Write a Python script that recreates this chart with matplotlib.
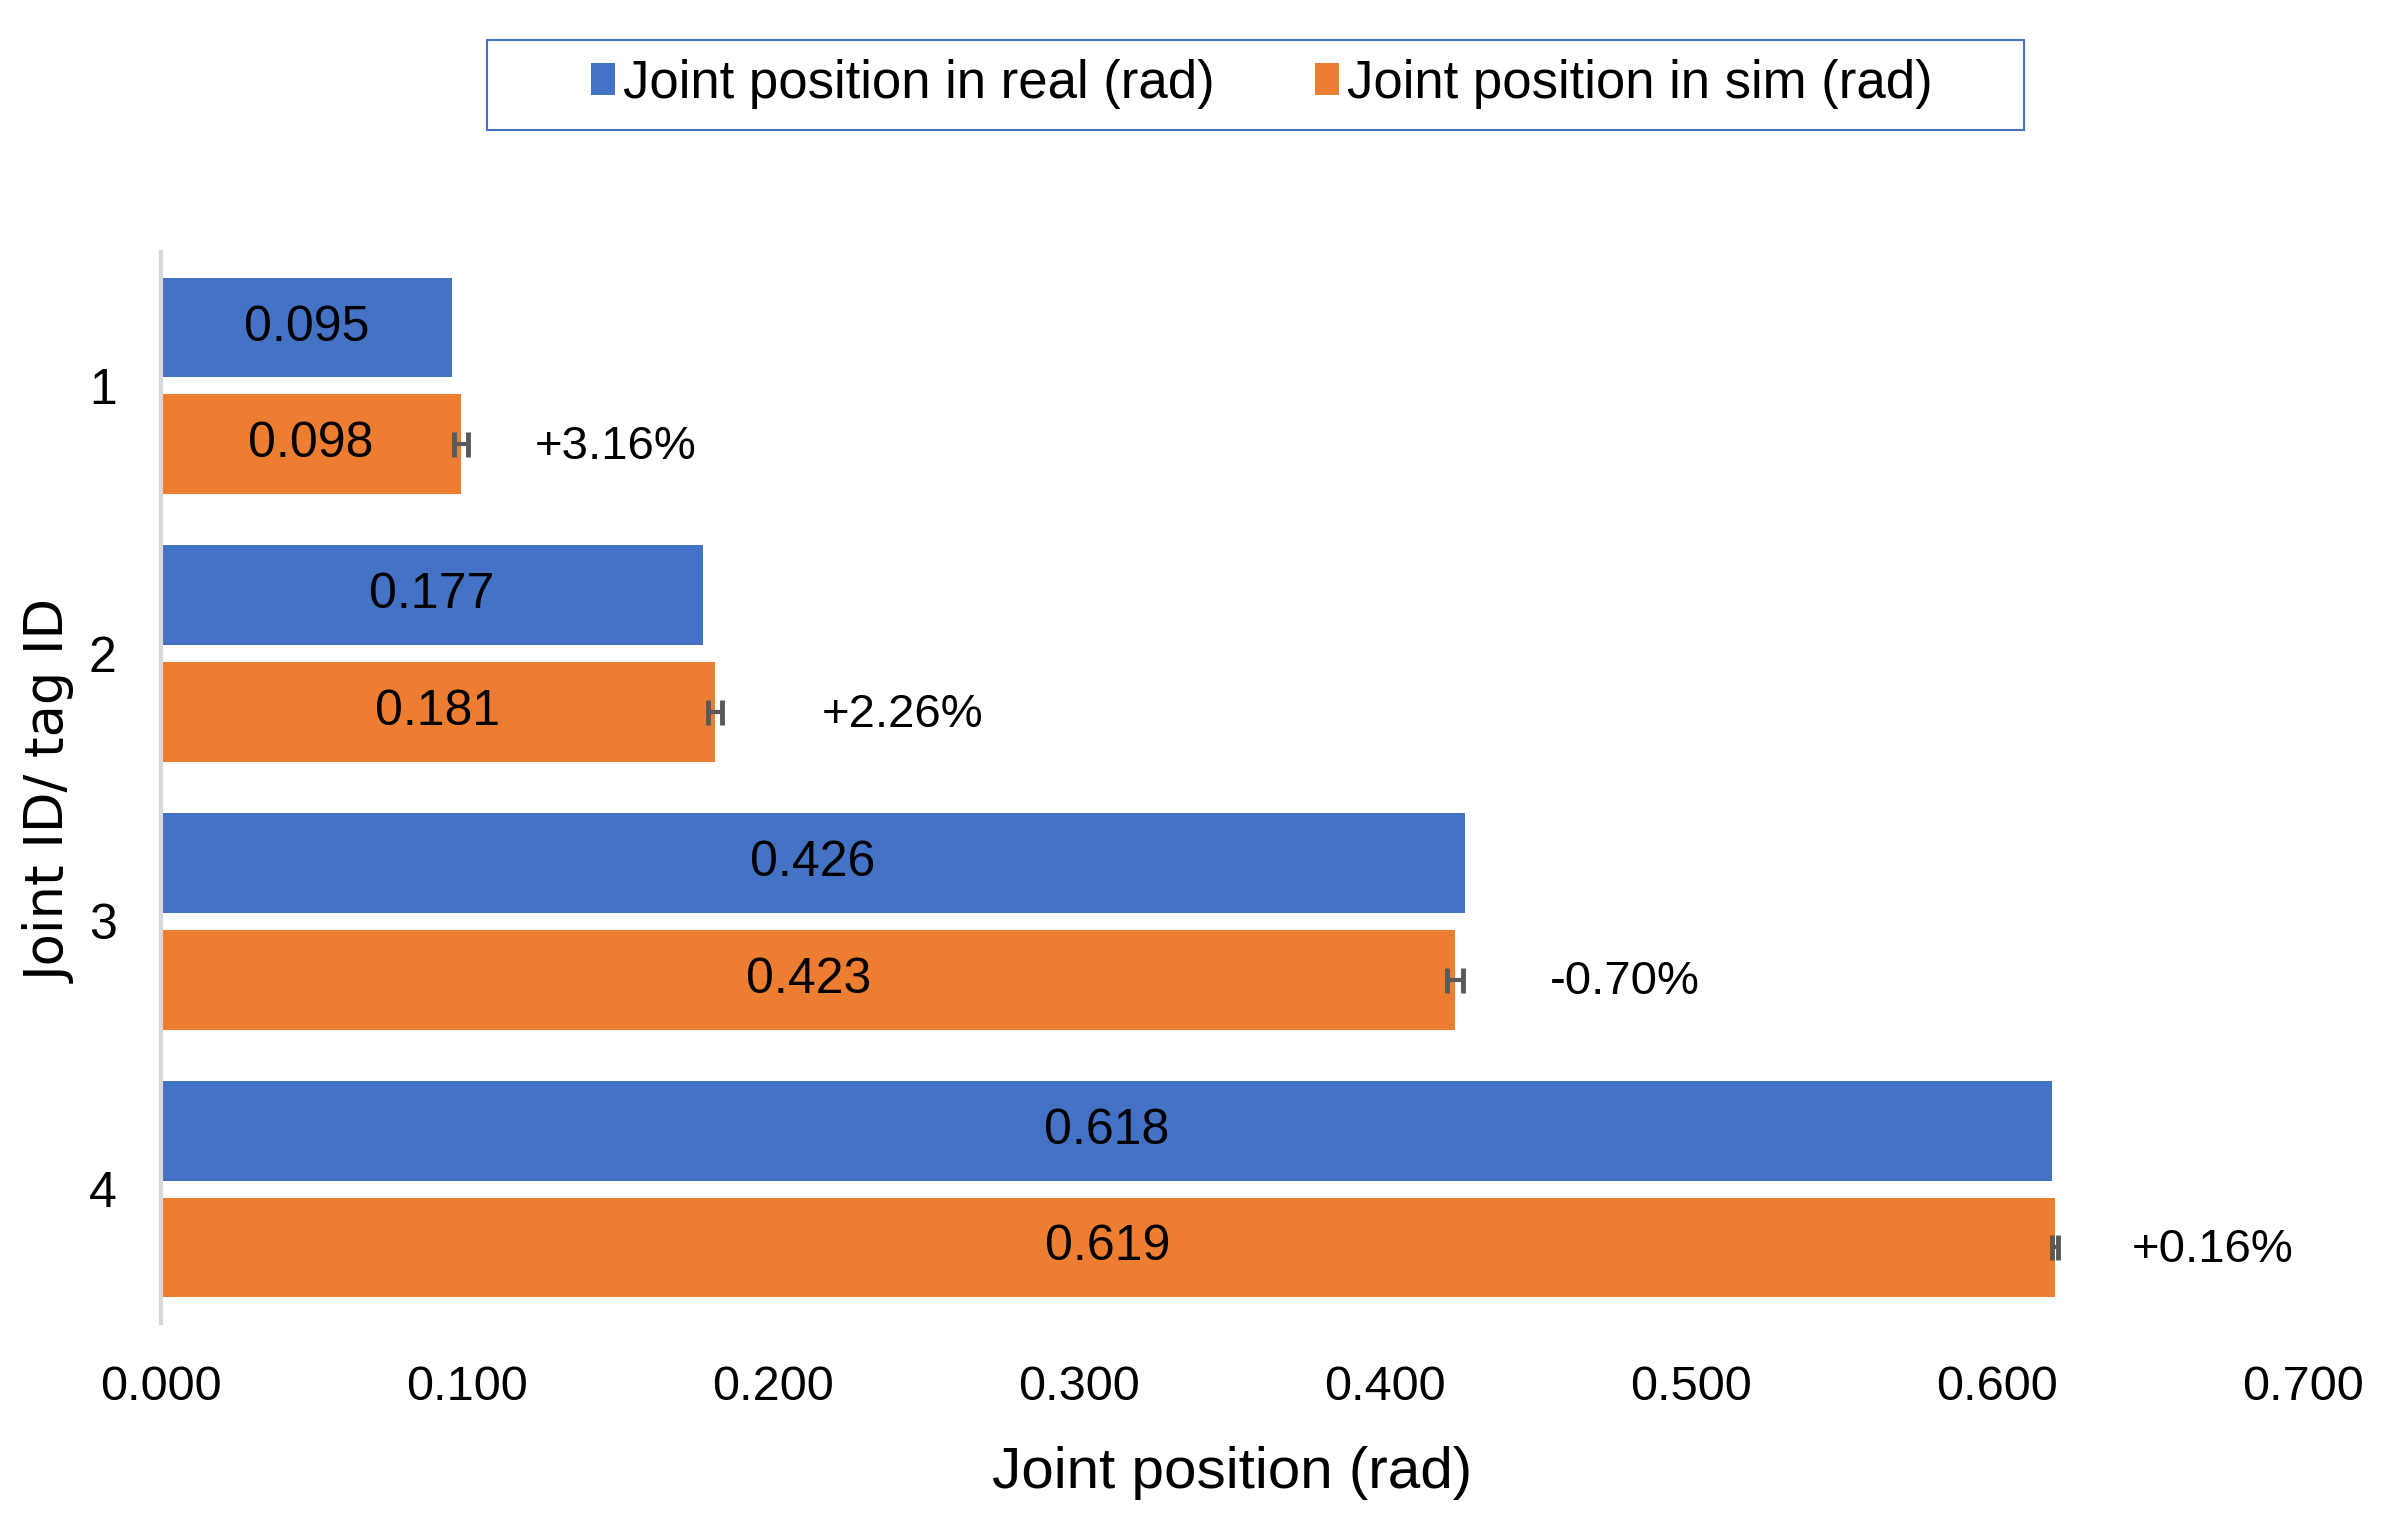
import matplotlib.pyplot as plt
import numpy as np
from matplotlib.patches import Rectangle

# data
joints = ['1', '2', '3', '4']
real_pos = [0.095, 0.177, 0.426, 0.618]
sim_pos = [0.098, 0.181, 0.423, 0.619]
sim_err = [0.0022, 0.0022, 0.0026, 0.001]
pct_labels = ['+3.16%', '+2.26%', '-0.70%', '+0.16%']
pct_gap = [0.024, 0.035, 0.031, 0.025]   # how far right of the bar the % label sits
xticks = [0.0, 0.1, 0.2, 0.3, 0.4, 0.5, 0.6, 0.7]

BLUE = '#4472C4'
ORANGE = '#ED7D31'
FONT = ['Liberation Sans', 'DejaVu Sans']

plt.rcParams['font.family'] = FONT

fig = plt.figure(figsize=(23.9, 15.13), dpi=100)
ax = fig.add_axes([0.0674, 0.1256, 0.8962, 0.7078])

y = np.arange(len(joints))
h = 0.373
off = 0.218

ax.barh(y - off, real_pos, height=h, color=BLUE, label='Joint position in real (rad)')
ax.barh(y + off, sim_pos, height=h, color=ORANGE, label='Joint position in sim (rad)')
ax.errorbar(sim_pos, y + off, xerr=sim_err, fmt='none', ecolor='#595959',
            elinewidth=3, capsize=9, capthick=3.5)

# value labels centred in the bars
for yi, v in zip(y, real_pos):
    ax.text(v / 2, yi - off, f'{v:.3f}', ha='center', va='center', fontsize=36, color='black')
for yi, v in zip(y, sim_pos):
    ax.text(v / 2, yi + off, f'{v:.3f}', ha='center', va='center', fontsize=36, color='black')

# percentage difference next to the sim bars
for yi, v, lab, g in zip(y, sim_pos, pct_labels, pct_gap):
    ax.text(v + g, yi + off + 0.01, lab, ha='left', va='center', fontsize=34, color='black')

ax.set_xlim(0, 0.7)
ax.set_ylim(len(joints) - 0.5, -0.5)
ax.set_xticks(xticks)
ax.set_xticklabels([f'{t:.3f}' for t in xticks])
ax.set_yticks(y)
ax.set_yticklabels(joints)
ax.tick_params(axis='x', length=0, pad=30, labelsize=35)
ax.tick_params(axis='y', length=0, pad=32, labelsize=36)

for s in ['top', 'right', 'bottom']:
    ax.spines[s].set_visible(False)
ax.spines['left'].set_color('#D9D9D9')
ax.spines['left'].set_linewidth(3)

ax.set_xlabel('Joint position (rad)', fontsize=42)
ax.xaxis.set_label_coords(0.5, -0.14)
ax.xaxis.label.set_va('center')
ax.set_ylabel('Joint ID/ tag ID', fontsize=38, family=['DejaVu Sans'])
ax.yaxis.set_label_coords(-0.0516, 0.496)
ax.yaxis.label.set_va('center')

# legend with a separate Excel-like box
leg = fig.legend(loc='center', bbox_to_anchor=(0.528, 0.9445), ncol=2, frameon=False,
                 fontsize=38, handlelength=0.45, handleheight=0.55, handletextpad=0.15,
                 columnspacing=1.9)
fig.patches.append(Rectangle((0.2038, 0.9141), 0.643, 0.0595, transform=fig.transFigure,
                             fill=False, edgecolor=BLUE, linewidth=1.5))

fig.savefig('out.png', dpi=100)
